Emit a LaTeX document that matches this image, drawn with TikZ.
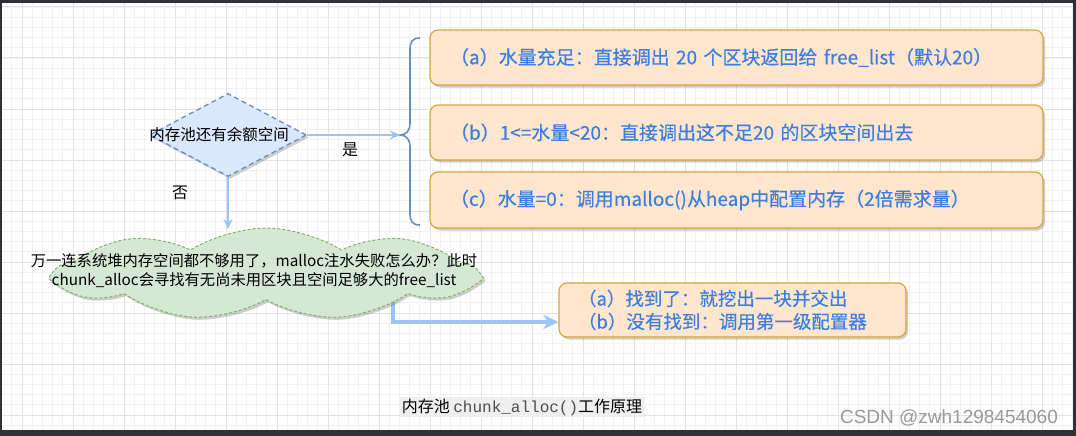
\documentclass[tikz,border=0pt]{standalone}
\usepackage{fontspec}
\setmainfont{Noto Sans CJK SC}
\newfontfamily\boxfont[FakeBold=0.35]{Noto Sans CJK SC}
\newfontfamily\monof{Liberation Mono}
\newfontfamily\wmf{Liberation Sans}
\usetikzlibrary{shapes.geometric,shapes.symbols,shadows,arrows.meta}
\definecolor{framec}{HTML}{2E3135}
\definecolor{gridminor}{HTML}{F2F2F2}
\definecolor{gridmajor}{HTML}{E2E2E2}
\definecolor{diafill}{HTML}{DAE8FC}
\definecolor{diadraw}{HTML}{6C8EBF}
\definecolor{boxfill}{HTML}{FFE6CC}
\definecolor{boxdraw}{HTML}{D6A73F}
\definecolor{boxtext}{HTML}{3D7EE3}
\definecolor{cloudfill}{HTML}{D5E8D4}
\definecolor{clouddraw}{HTML}{82B366}
\definecolor{arrowc}{HTML}{9EC4F7}
\definecolor{capbg}{HTML}{EFEFEF}
\pgfdeclarelayer{back}
\pgfdeclarelayer{bg}
\pgfsetlayers{back,bg,main}
\tikzset{
  shadowed/.style={drop shadow={shadow xshift=2pt,shadow yshift=-2.5pt,opacity=0.35,fill=black!55}},
  decision/.style={diamond,aspect=1.89,minimum width=157pt,minimum height=83pt,inner sep=0pt,
    fill=diafill,draw=diadraw,line width=1.3pt,dash pattern=on 5pt off 3.5pt,shadowed},
  infobox/.style={rectangle,rounded corners=8pt,fill=boxfill,draw=boxdraw,line width=1.2pt,shadowed,
    text=boxtext,align=left,inner xsep=20pt,inner ysep=0pt,font=\boxfont\fontsize{19pt}{23pt}\selectfont},
  cloudshape/.style={cloud,cloud puffs=9,cloud puff arc=65,aspect=4.6,minimum width=420pt,minimum height=92pt,
    inner sep=0pt,fill=cloudfill,draw=clouddraw,line width=1pt,dash pattern=on 3pt off 2pt,shadowed},
  flow/.style={draw=arrowc,line width=1.6pt,-{Stealth[length=10pt,width=9pt]}},
  flowthick/.style={draw=arrowc,line width=3.2pt,-{Stealth[length=15pt,width=14pt]}},
  bracec/.style={draw=diadraw,line width=1.6pt},
  plain/.style={text=black,inner sep=0pt},
}
\begin{document}
\begin{tikzpicture}[x=1pt,y=-1pt]
\useasboundingbox (0,0) rectangle (1076,436);
\begin{pgfonlayer}{back}
\fill[framec] (0,0) rectangle (1076,436);
\fill[white] (2,3) rectangle (1073,430);
\begin{scope}
\clip (2,3) rectangle (1073,430);
\foreach \i in {0,...,105} \draw[gridminor,line width=0.8pt] ({1.6+10.2*\i},3) -- ({1.6+10.2*\i},430);
\foreach \i in {0,...,41} \draw[gridminor,line width=0.8pt] (2,{7+10.2*\i}) -- (1073,{7+10.2*\i});
\foreach \i in {0,...,20} \draw[gridmajor,line width=1pt] ({22+51*\i},3) -- ({22+51*\i},430);
\foreach \i in {0,...,8} \draw[gridmajor,line width=1pt] (2,{7+51*\i}) -- (1073,{7+51*\i});
\end{scope}
\end{pgfonlayer}

% decision
\node[decision,label={[plain,xshift=-9pt,font=\fontsize{15.5pt}{17pt}\selectfont]center:内存池还有余额空间}] (dia) at (228,135) {};

% boxes
\node[infobox,text width=573pt,minimum height=55pt] (ba) at (736.5,57.5) {（a）水量充足：直接调出 20 个区块返回给 free\_list（默认20）};
\node[infobox,text width=573pt,minimum height=55pt] (bb) at (736.5,132.5) {（b）1<=水量<20：直接调出这不足20 的区块空间出去};
\node[infobox,text width=573pt,minimum height=56pt] (bc) at (736.5,200) {（c）水量=0：调用malloc()从heap中配置内存（2倍需求量）};

% brace
\coordinate (tip) at (400,135);
\draw[bracec] (420,38) .. controls (412,38) and (410,42) .. (410,50) -- (410,123)
  .. controls (410,131) and (406,135) .. (tip)
  .. controls (406,135) and (410,139) .. (410,147) -- (410,213)
  .. controls (410,221) and (412,225) .. (420,225);

% cloud
\node[cloudshape] (cl) at (266,274) {};
\node[plain,align=center,font=\fontsize{15.3pt}{19pt}\selectfont] (cltext) at (254,271)
  {万一连系统堆内存空间都不够用了，malloc注水失败怎么办？此时\\chunk\_alloc会寻找有无尚未用区块且空间足够大的free\_list};

% result box
\node[infobox,text width=309pt,minimum height=54pt,inner xsep=19pt,font=\boxfont\fontsize{18.5pt}{23pt}\selectfont] (bd) at (732.5,310)
  {（a）找到了：就挖出一块并交出\\（b）没有找到：调用第一级配置器};

% connectors
\draw[flow] (dia.east) -- (tip);
\node[plain,font=\fontsize{16pt}{18pt}\selectfont] (yes) at (350,150) {是};
\node[plain,font=\fontsize{16pt}{18pt}\selectfont] (no) at (180,193) {否};
\draw[flow] (dia.south) -- (dia.south |- 0,229);
\begin{pgfonlayer}{bg}
\draw[flowthick] ([xshift=127pt]cl.center) |- ([yshift=-12pt]bd.west);
\end{pgfonlayer}

% caption
\node[fill=capbg,inner sep=2pt,font=\fontsize{16pt}{18pt}\selectfont] (cap) at (522,407)
  {内存池 {\monof\color{black!70}chunk\_alloc()}工作原理};
\node[inner sep=0pt,text=black!40,font=\wmf\fontsize{19pt}{21pt}\selectfont] (wm) at (949,418) {CSDN @zwh1298454060};
\end{tikzpicture}
\end{document}
